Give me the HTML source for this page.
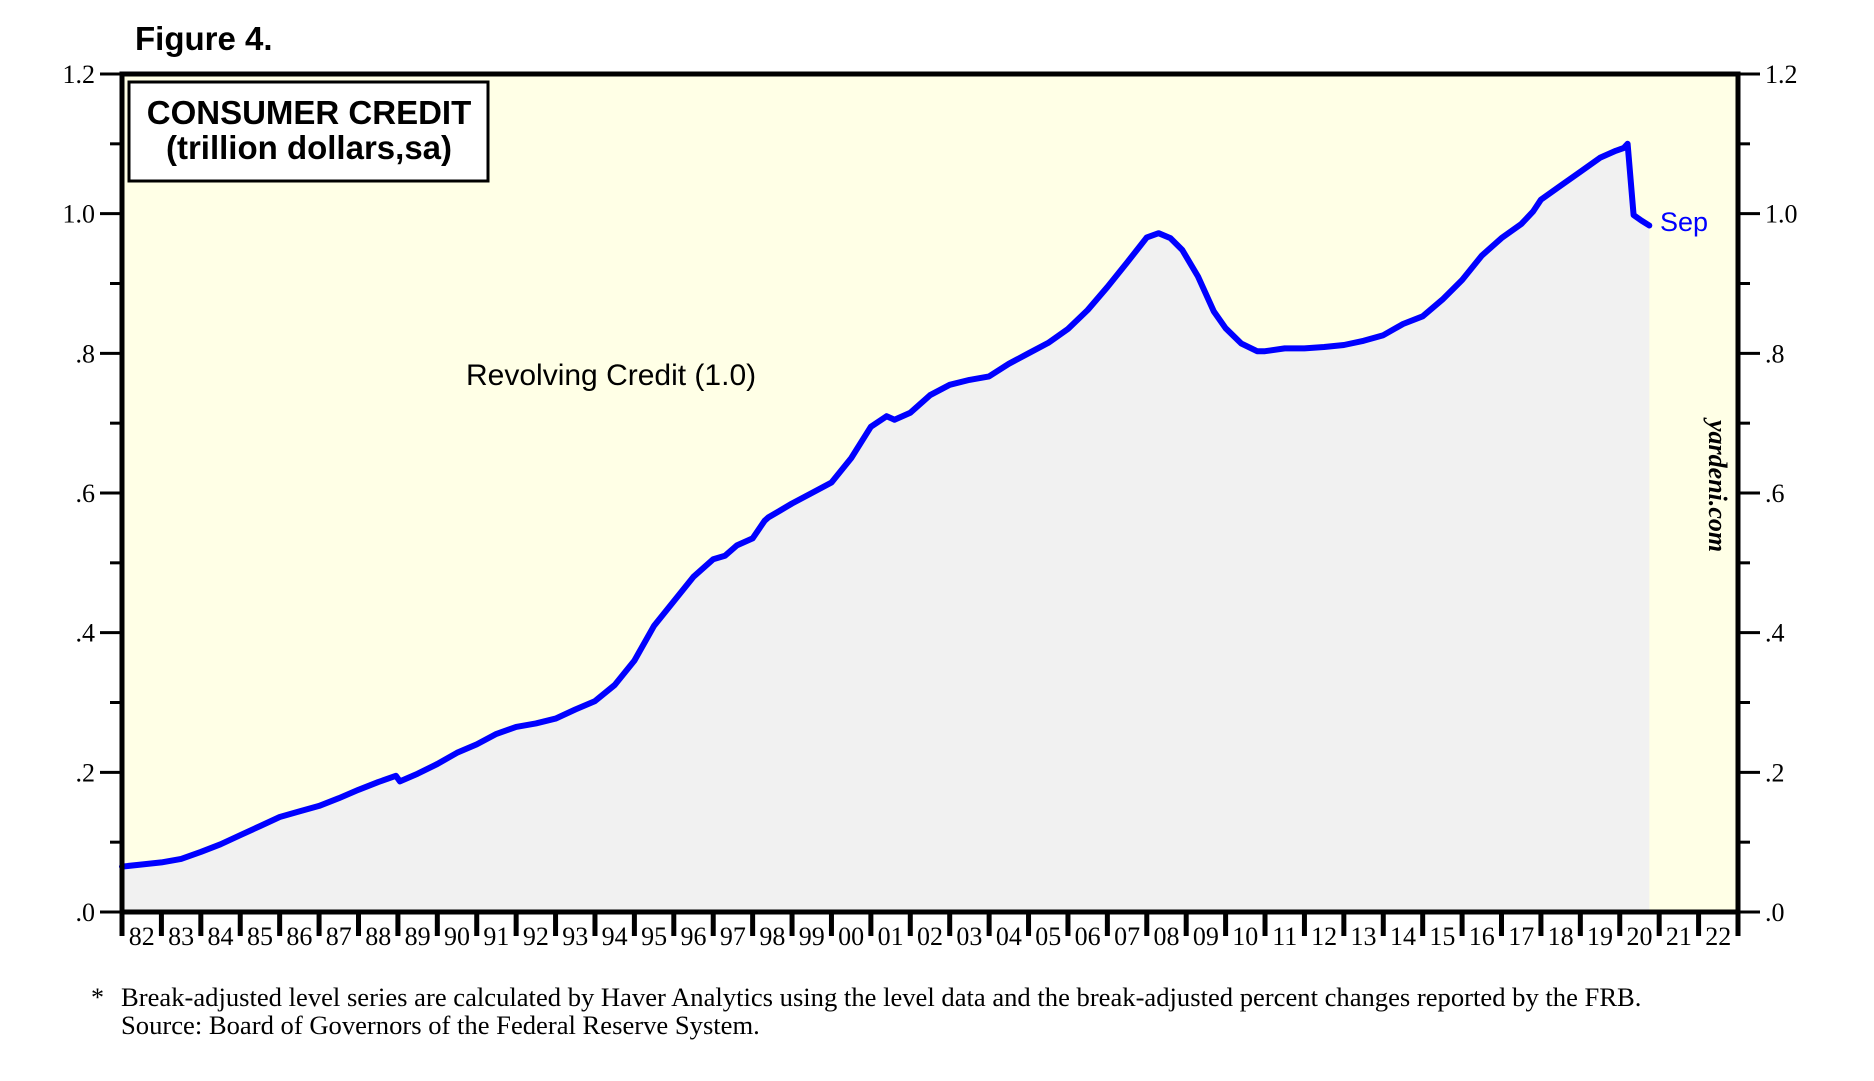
<!DOCTYPE html>
<html><head><meta charset="utf-8"><style>
html,body{margin:0;padding:0;background:#fff;}
svg{display:block;}
</style></head><body>
<svg id="chart" width="1874" height="1081" viewBox="0 0 1874 1081" xmlns="http://www.w3.org/2000/svg">
<text x="135" y="50" font-family="Liberation Sans, sans-serif" font-weight="bold" font-size="33">Figure 4.</text>
<rect x="122" y="74" width="1616" height="838" fill="#ffffe6"/>
<g id="series"></g>
<rect x="122" y="74" width="1616" height="838" fill="none" stroke="#000" stroke-width="5"/>
<g id="axes"></g>
<rect x="129" y="82" width="359" height="99" fill="#fff" stroke="#000" stroke-width="3"/>
<text x="309" y="124" text-anchor="middle" font-family="Liberation Sans, sans-serif" font-weight="bold" font-size="33">CONSUMER CREDIT</text>
<text x="309" y="159" text-anchor="middle" font-family="Liberation Sans, sans-serif" font-weight="bold" font-size="33">(trillion dollars,sa)</text>
<text x="466" y="385" font-family="Liberation Sans, sans-serif" font-size="30">Revolving Credit (1.0)</text>
<text x="1660" y="231" font-family="Liberation Sans, sans-serif" font-size="27" fill="#0000ff">Sep</text>
<text transform="translate(1709,420) rotate(90)" font-family="Liberation Serif, serif" font-style="italic" font-weight="bold" font-size="26">yardeni.com</text>
<text x="91" y="1006" font-family="Liberation Serif, serif" font-size="26">*</text>
<text x="121" y="1006" font-family="Liberation Serif, serif" font-size="26.6">Break-adjusted level series are calculated by Haver Analytics using the level data and the break-adjusted percent changes reported by the FRB.</text>
<text x="121" y="1034" font-family="Liberation Serif, serif" font-size="26.6">Source: Board of Governors of the Federal Reserve System.</text>
</svg>
<script>
const dates = [1982.0,1982.5,1983.0,1983.5,1984.0,1984.5,1985.0,1985.5,1986.0,1986.5,1987.0,1987.5,1988.0,1988.5,1988.95,1989.05,1989.5,1990.0,1990.5,1991.0,1991.5,1992.0,1992.5,1993.0,1993.5,1994.0,1994.5,1995.0,1995.5,1996.0,1996.5,1997.0,1997.3,1997.6,1998.0,1998.3,1998.4,1998.7,1999.0,1999.5,2000.0,2000.5,2001.0,2001.4,2001.6,2002.0,2002.5,2003.0,2003.5,2004.0,2004.5,2005.0,2005.5,2006.0,2006.5,2007.0,2007.5,2008.0,2008.3,2008.6,2008.9,2009.3,2009.7,2010.0,2010.4,2010.8,2011.0,2011.5,2012.0,2012.5,2013.0,2013.5,2014.0,2014.5,2015.0,2015.5,2016.0,2016.5,2017.0,2017.5,2017.8,2018.0,2018.5,2019.0,2019.5,2019.9,2020.1,2020.2,2020.35,2020.55,2020.75];
const values = [0.065,0.068,0.071,0.076,0.086,0.097,0.110,0.123,0.136,0.144,0.152,0.163,0.175,0.186,0.195,0.187,0.198,0.212,0.228,0.24,0.255,0.265,0.27,0.277,0.29,0.302,0.325,0.36,0.41,0.445,0.48,0.505,0.51,0.525,0.535,0.56,0.565,0.575,0.585,0.6,0.615,0.65,0.695,0.71,0.705,0.715,0.74,0.755,0.762,0.767,0.785,0.8,0.815,0.835,0.862,0.895,0.93,0.966,0.972,0.965,0.948,0.91,0.86,0.836,0.814,0.803,0.803,0.807,0.807,0.809,0.812,0.818,0.826,0.842,0.853,0.877,0.905,0.94,0.965,0.985,1.003,1.02,1.04,1.06,1.08,1.09,1.094,1.1,0.998,0.99,0.983];
const yTicks = [0,0.2,0.4,0.6,0.8,1.0,1.2];
const yTickLabels = [".0",".2",".4",".6",".8","1.0","1.2"];
const yearLabels = ["82","83","84","85","86","87","88","89","90","91","92","93","94","95","96","97","98","99","00","01","02","03","04","05","06","07","08","09","10","11","12","13","14","15","16","17","18","19","20","21","22"];

const NS = "http://www.w3.org/2000/svg";
const X0 = 122, X1 = 1738, Y0 = 912, YTOP = 74;
const xScale = yr => X0 + (yr - 1982) / 41 * (X1 - X0);
const yScale = v => Y0 - v / 1.2 * (Y0 - YTOP);
function mk(tag, attrs, parent){const e=document.createElementNS(NS,tag);for(const k in attrs)e.setAttribute(k,attrs[k]);parent.appendChild(e);return e;}

const series = document.getElementById('series');
const pts = dates.map((d,i)=>xScale(d).toFixed(1)+','+yScale(values[i]).toFixed(1));
const area = mk('polygon',{points: xScale(dates[0])+','+Y0+' '+pts.join(' ')+' '+xScale(dates[dates.length-1])+','+Y0, fill:'#f1f1f1'}, series);


const line = mk('polyline',{points: pts.join(' '), fill:'none', stroke:'#0000ff','stroke-width':6,'stroke-linejoin':'round','stroke-linecap':'round'}, series);



const axes = document.getElementById('axes');
const ff = 'Liberation Serif, serif';
yTicks.forEach((v,i)=>{
  const y = yScale(v);
  const tl = mk('line',{x1:X0-22,x2:X0,y1:y,y2:y,stroke:'#000','stroke-width':3},axes);
  
  
  const tr = mk('line',{x1:X1,x2:X1+22,y1:y,y2:y,stroke:'#000','stroke-width':3},axes);
  
  
  const ll = mk('text',{x:X0-27,y:y+9,'text-anchor':'end','font-family':ff,'font-size':26},axes);
  ll.textContent = yTickLabels[i];
  
  
  const lr = mk('text',{x:X1+27,y:y+9,'font-family':ff,'font-size':26},axes);
  lr.textContent = yTickLabels[i];
  
  
  if (i < yTicks.length-1) {
    const ym = yScale(v+0.1);
    const ml = mk('line',{x1:X0-12,x2:X0,y1:ym,y2:ym,stroke:'#000','stroke-width':3},axes);
    
    
    const mr = mk('line',{x1:X1,x2:X1+12,y1:ym,y2:ym,stroke:'#000','stroke-width':3},axes);
    
    
  }
});
for (let i=0;i<=yearLabels.length;i++){
  const x = xScale(1982+i);
  const t = mk('line',{x1:x,x2:x,y1:Y0,y2:Y0+24,stroke:'#000','stroke-width':5},axes);
  
  
  if (i < yearLabels.length){
    const lab = mk('text',{x:x+19.7,y:Y0+33,'text-anchor':'middle','font-family':ff,'font-size':26},axes);
    lab.textContent = yearLabels[i];
    
    
  }
}
</script>
</body></html>
